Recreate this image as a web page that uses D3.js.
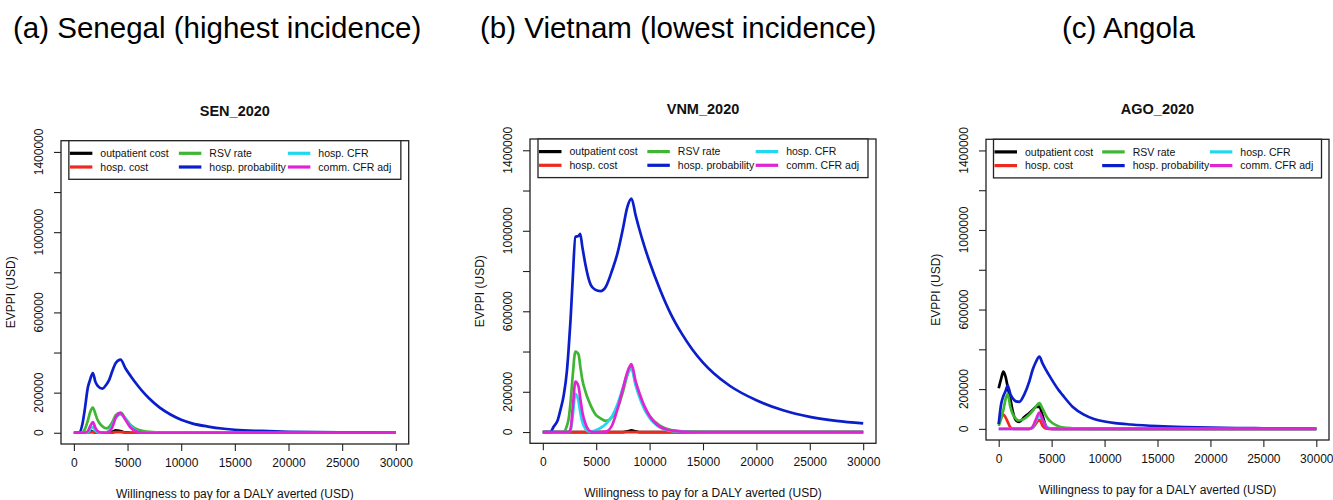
<!DOCTYPE html>
<html><head><meta charset="utf-8">
<script src="https://cdn.jsdelivr.net/npm/d3@7"></script>
<style>
body{margin:0;background:#fff}
svg{display:block}
text{font-family:"Liberation Sans",Arial,Helvetica,sans-serif;fill:#111}
</style>
</head><body>
<svg id="c" width="1333" height="500"></svg>
<script>
// ---------------- DATA ----------------
const seriesNames = ["outpatient cost","hosp. cost","RSV rate","hosp. probability","hosp. CFR","comm. CFR adj"];
const seriesColors = ["#000000","#ee2a1e","#3fb534","#0a1ecc","#22d8ee","#e024d4"];
const xTicks = [0,5000,10000,15000,20000,25000,30000];
const yTicks = [0,200000,400000,600000,800000,1000000,1200000,1400000];
const yTickLabels = [0,200000,600000,1000000,1400000];
const headers = ["(a) Senegal (highest incidence)","(b) Vietnam (lowest incidence)","(c) Angola"];
const panelTitles = ["SEN_2020","VNM_2020","AGO_2020"];

// Senegal
const senWtp =        [0,500,800,1000,1300,1500,1770,2000,2200,2650,3000,3300,3600,3900,4350,4800,5300,6000,6500,7000,8000,9000,10000,11000,12500,14000,15000,17500,20000,22500,25000,27500,30000];
const senOutpatient = [0,0,0,0,3000,8000,5000,1000,0,0,0,1000,5000,12000,8000,2000,0,0,0,0,0,0,0,0,0,0,0,0,0,0,0,0,0];
const senHospCost =   [0,0,0,0,1000,2000,3000,1000,0,0,0,0,1000,3000,3000,1000,0,0,0,0,0,0,0,0,0,0,0,0,0,0,0,0,0];
const senRsvRate =    [0,0,3000,15000,60000,100000,125000,95000,65000,32000,22000,30000,55000,88000,100000,72000,38000,15000,8000,4000,1000,0,0,0,0,0,0,0,0,0,0,0,0];
const senHospProb =   [0,2000,45000,110000,225000,262000,298000,255000,235000,220000,238000,265000,310000,348000,365000,322000,282000,232000,200000,172000,125000,91000,65000,47000,31000,20000,15000,9000,5000,3000,2000,1500,1000];
const senHospCFR =    [0,0,0,0,3000,15000,28000,12000,3000,0,2000,12000,40000,75000,92000,70000,32000,5000,1000,0,0,0,0,0,0,0,0,0,0,0,0,0,0];
const senCommCFR =    [0,0,0,0,8000,30000,53000,25000,8000,0,0,5000,30000,75000,98000,65000,25000,3000,0,0,0,0,0,0,0,0,0,0,0,0,0,0,0];

// Vietnam
const vnmWtp =        [0,700,1000,1400,1650,1950,2250,2400,2600,2800,3050,3350,3500,3700,4000,4300,4500,4900,5400,5900,6500,7000,7500,7900,8300,8700,9000,9500,10000,11000,12000,13000,14000,15000,16000,17500,20000,22500,25000,27500,30000];
const vnmOutpatient = [0,0,0,0,0,0,0,0,0,0,0,0,0,0,0,0,0,0,0,0,0,0,0,3000,8000,3000,0,0,0,0,0,0,0,0,0,0,0,0,0,0,0];
const vnmHospCost =   [0,0,0,0,0,0,0,0,0,0,0,0,0,0,0,0,0,0,0,0,0,0,0,0,0,0,0,0,0,0,0,0,0,0,0,0,0,0,0,0,0];
const vnmRsvRate =    [0,0,0,0,0,0,30000,60000,150000,280000,400000,385000,330000,260000,200000,155000,130000,90000,68000,55000,75000,120000,200000,280000,325000,240000,190000,125000,80000,30000,10000,4000,2000,1000,0,0,0,0,0,0,0];
const vnmHospProb =   [0,0,25000,60000,110000,180000,300000,400000,560000,760000,970000,975000,985000,920000,830000,760000,730000,708000,700000,722000,805000,890000,1010000,1115000,1160000,1075000,1015000,925000,845000,705000,585000,490000,410000,345000,292000,230000,158000,108000,75000,55000,43000];
const vnmHospCFR =    [0,0,0,0,0,0,0,0,10000,80000,190000,150000,100000,50000,15000,3000,2000,8000,20000,40000,80000,140000,220000,285000,312000,230000,180000,115000,70000,22000,6000,2000,0,0,0,0,0,0,0,0,0];
const vnmCommCFR =    [0,0,0,0,0,0,0,0,15000,120000,250000,225000,170000,100000,40000,10000,3000,0,0,2000,35000,115000,215000,295000,337000,250000,200000,130000,80000,25000,8000,2000,0,0,0,0,0,0,0,0,0];

// Angola
const agoWtp =        [0,220,440,650,850,1100,1320,1640,1950,2400,2900,3200,3500,3840,4150,4450,4700,5100,5700,6000,7000,8000,9000,10000,11000,12500,15000,17500,20000,22500,25000,27500,30000];
const agoOutpatient = [204000,250000,288000,262000,210000,150000,90000,42000,35000,58000,80000,95000,110000,112000,65000,15000,3000,0,0,0,0,0,0,0,0,0,0,0,0,0,0,0,0];
const agoHospCost =   [25000,55000,72000,58000,35000,8000,1000,0,0,0,0,5000,25000,45000,15000,2000,0,0,0,0,0,0,0,0,0,0,0,0,0,0,0,0,0];
const agoRsvRate =    [15000,50000,95000,150000,175000,110000,75000,50000,42000,50000,72000,90000,112000,130000,100000,68000,48000,28000,12000,8000,3000,1000,0,0,0,0,0,0,0,0,0,0,0];
const agoHospProb =   [24000,121000,165000,190000,218000,175000,154000,138000,136000,171000,240000,296000,335000,363000,328000,298000,275000,240000,192000,172000,110000,73000,50000,37000,29000,22000,14000,9000,6000,4000,3000,2000,1000];
const agoHospCFR =    [0,0,0,0,0,0,0,0,0,0,0,8000,38000,65000,45000,15000,4000,0,0,0,0,0,0,0,0,0,0,0,0,0,0,0,0];
const agoCommCFR =    [0,0,0,0,0,0,0,0,0,0,0,10000,45000,82000,45000,10000,1000,0,0,0,0,0,0,0,0,0,0,0,0,0,0,0,0];

// ---------------- LAYOUT ----------------
const panels = [
  {title: panelTitles[0], wtp: senWtp, series: [senOutpatient,senHospCost,senRsvRate,senHospProb,senHospCFR,senCommCFR],
   box: {l: 61, r: 408.7, t: 140.7, b: 444}, legendW: 332},
  {title: panelTitles[1], wtp: vnmWtp, series: [vnmOutpatient,vnmHospCost,vnmRsvRate,vnmHospProb,vnmHospCFR,vnmCommCFR],
   box: {l: 530, r: 876, t: 139, b: 443.3}, legendW: 330},
  {title: panelTitles[2], wtp: agoWtp, series: [agoOutpatient,agoHospCost,agoRsvRate,agoHospProb,agoHospCFR,agoCommCFR],
   box: {l: 986, r: 1329, t: 139.3, b: 440}, legendW: 328}
];
const headerX = [13, 480, 1062];

const svg = d3.select("#c");
svg.append("rect").attr("width",1333).attr("height",500).attr("fill","#fff");

headers.forEach((h,i) => {
  svg.append("text").attr("x", headerX[i]).attr("y", 38)
    .attr("font-size", 29.5).style("fill","#000").text(h);
});

panels.forEach(p => {
  const B = p.box;
  const x = d3.scaleLinear().domain([-1200, 31200]).range([B.l, B.r]);
  const y = d3.scaleLinear().domain([-56000, 1456000]).range([B.b, B.t]);
  const g = svg.append("g");

  // title
  g.append("text").attr("x", (B.l + B.r) / 2).attr("y", B.t - 25)
    .attr("text-anchor","middle").attr("font-weight","bold").attr("font-size", 14.5).text(p.title);

  // x axis
  const gx = g.append("g").attr("transform", `translate(0,${B.b})`)
    .call(d3.axisBottom(x).tickValues(xTicks).tickSize(7).tickSizeOuter(0).tickPadding(7).tickFormat(d3.format("d")));
  gx.select(".domain").remove();
  gx.selectAll(".tick line").attr("stroke","#222").attr("stroke-width",1.1);
  gx.selectAll(".tick text").attr("font-size", 12).attr("font-family", null).style("fill","#111");

  // y axis
  const gy = g.append("g").attr("transform", `translate(${B.l},0)`)
    .call(d3.axisLeft(y).tickValues(yTicks).tickSize(7).tickSizeOuter(0).tickFormat(""));
  gy.select(".domain").remove();
  gy.selectAll(".tick line").attr("stroke","#222").attr("stroke-width",1.1);
  yTickLabels.forEach(v => {
    g.append("text").attr("transform", `translate(${B.l - 18},${y(v)}) rotate(-90)`)
      .attr("text-anchor","middle").attr("font-size", 12).text(d3.format("d")(v));
  });

  // axis titles
  g.append("text").attr("x", (B.l + B.r) / 2).attr("y", B.b + 54)
    .attr("text-anchor","middle").attr("font-size", 12).text("Willingness to pay for a DALY averted (USD)");
  g.append("text").attr("transform", `translate(${B.l - 46},${(B.t + B.b) / 2}) rotate(-90)`)
    .attr("text-anchor","middle").attr("font-size", 12).text("EVPPI (USD)");

  // lines
  const line = d3.line().curve(d3.curveMonotoneX);
  p.series.forEach((s, i) => {
    const pts = p.wtp.map((w, k) => [x(w), y(s[k])]);
    g.append("path").attr("d", line(pts)).attr("fill","none")
      .attr("stroke", seriesColors[i]).attr("stroke-width", 2.7).attr("stroke-linejoin","round");
  });

  // box
  g.append("rect").attr("x", B.l).attr("y", B.t).attr("width", B.r - B.l).attr("height", B.b - B.t)
    .attr("fill","none").attr("stroke","#222").attr("stroke-width",1.3);

  // legend
  const LW = p.legendW, LH = 38.6;
  const Lx = (B.l + B.r) / 2 - LW / 2;
  const lg = g.append("g").attr("transform", `translate(${Lx},${B.t})`);
  lg.append("rect").attr("width", LW).attr("height", LH).attr("fill","#fff")
    .attr("stroke","#222").attr("stroke-width",1.3);
  const colX = [1, 110, 219].map(c => c * LW / 332);
  const rowY = [12.6, 26.3];
  seriesNames.forEach((n, i) => {
    const c = Math.floor(i / 2), r = i % 2;
    lg.append("line").attr("x1", colX[c]).attr("x2", colX[c] + 22.5)
      .attr("y1", rowY[r]).attr("y2", rowY[r]).attr("stroke", seriesColors[i]).attr("stroke-width", 3.2);
    lg.append("text").attr("x", colX[c] + 30.5).attr("y", rowY[r]).attr("dy","0.35em")
      .attr("font-size", 10.5).text(n);
  });
});
</script>
</body></html>
